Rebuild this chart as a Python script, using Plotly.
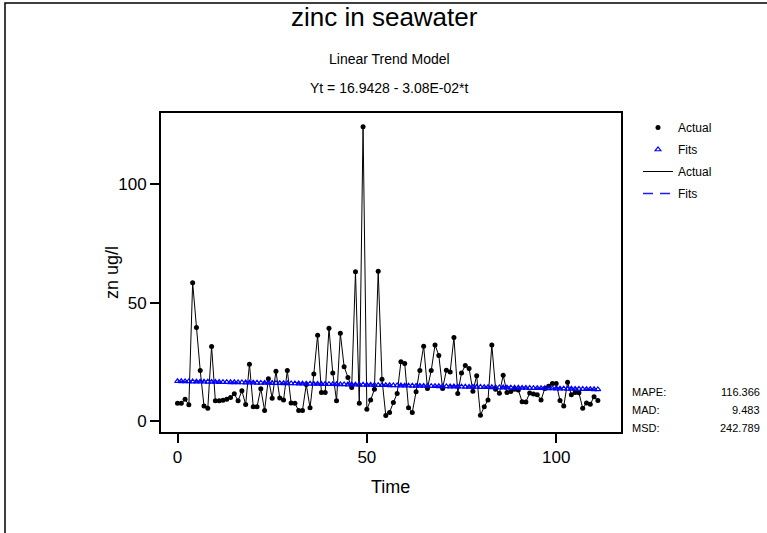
import plotly.graph_objects as go

W, H = 767, 533

time = list(range(0, 112))

actual = [
    7.6, 7.6, 9.3, 7.0, 58.4, 39.6, 21.4, 6.5, 5.5, 31.6,
    8.7, 8.7, 8.9, 9.3, 10.1, 11.6, 8.7, 12.9, 7.1, 24.1,
    6.2, 6.2, 13.8, 4.6, 18.0, 9.8, 21.1, 9.9, 9.0, 21.4,
    7.8, 7.6, 4.6, 4.6, 15.5, 5.7, 20.0, 36.3, 12.2, 12.2,
    39.2, 20.4, 8.7, 37.1, 23.0, 18.5, 14.3, 63.0, 7.6, 124.1,
    5.1, 9.0, 13.5, 63.3, 17.8, 2.5, 3.8, 8.0, 11.7, 25.1,
    24.4, 5.8, 3.8, 12.5, 21.4, 31.7, 13.9, 21.4, 32.2, 27.8,
    13.9, 21.5, 20.8, 35.3, 11.8, 20.4, 23.5, 22.3, 12.7, 19.2,
    2.6, 6.2, 9.0, 32.2, 13.5, 11.9, 19.4, 12.2, 12.6, 13.5,
    13.2, 8.3, 8.2, 12.0, 11.5, 11.2, 9.0, 13.9, 14.8, 16.0,
    16.0, 8.8, 6.5, 16.5, 11.2, 12.2, 12.1, 5.5, 7.7, 7.2,
    10.4, 8.8,
]

fits = [
    16.91, 16.88, 16.85, 16.82, 16.79, 16.76, 16.73, 16.70, 16.67, 16.63,
    16.60, 16.57, 16.54, 16.51, 16.48, 16.45, 16.42, 16.39, 16.36, 16.33,
    16.30, 16.27, 16.23, 16.20, 16.17, 16.14, 16.11, 16.08, 16.05, 16.02,
    15.99, 15.96, 15.93, 15.90, 15.86, 15.83, 15.80, 15.77, 15.74, 15.71,
    15.68, 15.65, 15.62, 15.59, 15.56, 15.53, 15.50, 15.46, 15.43, 15.40,
    15.37, 15.34, 15.31, 15.28, 15.25, 15.22, 15.19, 15.16, 15.13, 15.10,
    15.06, 15.03, 15.00, 14.97, 14.94, 14.91, 14.88, 14.85, 14.82, 14.79,
    14.76, 14.73, 14.69, 14.66, 14.63, 14.60, 14.57, 14.54, 14.51, 14.48,
    14.45, 14.42, 14.39, 14.36, 14.33, 14.29, 14.26, 14.23, 14.20, 14.17,
    14.14, 14.11, 14.08, 14.05, 14.02, 13.99, 13.96, 13.92, 13.89, 13.86,
    13.83, 13.80, 13.77, 13.74, 13.71, 13.68, 13.65, 13.62, 13.59, 13.56,
    13.52, 13.49,
]

x_ticks = [0, 50, 100]
y_ticks = [0, 50, 100]

stat_names = ["MAPE:", "MAD:", "MSD:"]
stat_values = ["116.366", "9.483", "242.789"]

title_main = "zinc in seawater"
title_sub1 = "Linear Trend Model"
title_sub2 = "Yt = 16.9428 - 3.08E-02*t"

FONT = "Liberation Sans, Arial, sans-serif"


def px(x):
    return x / W


def py(y):
    return 1 - y / H


# plot box in pixels
L, R, T, B = 161, 621, 113, 432

fig = go.Figure()
fig.add_trace(go.Scatter(x=time, y=actual, mode="lines", name="Actual",
                         line=dict(color="black", width=1),
                         legendgroup="c", legendrank=3))
fig.add_trace(go.Scatter(x=time, y=actual, mode="markers", name="Actual",
                         marker=dict(color="black", size=5, symbol="circle"),
                         legendgroup="a", legendrank=1))
fig.add_trace(go.Scatter(x=time, y=fits, mode="lines", name="Fits",
                         line=dict(color="#1a1aff", width=1.6, dash="10px,7px"),
                         legendgroup="d", legendrank=4))
fig.add_trace(go.Scatter(x=time, y=fits, mode="markers", name="Fits",
                         marker=dict(color="#0000ff", size=5, symbol="triangle-up-open",
                                     line=dict(width=1.2, color="#0000ff")),
                         legendgroup="b", legendrank=2))

annotations = [
    dict(text=title_main, x=px(384), y=py(17), font=dict(size=26)),
    dict(text=title_sub1, x=px(389), y=py(59), font=dict(size=14)),
    dict(text=title_sub2, x=px(389), y=py(88), font=dict(size=14)),
    dict(text="zn ug/l", x=px(112), y=py(272), font=dict(size=18), textangle=-90),
    dict(text="Time", x=px(391), y=py(487), font=dict(size=18)),
]
for k, (n, v) in enumerate(zip(stat_names, stat_values)):
    yy = 392 + 18 * k
    annotations.append(dict(text=n, x=px(630), y=py(yy), xanchor="left", font=dict(size=11)))
    annotations.append(dict(text=v, x=px(762), y=py(yy), xanchor="right", font=dict(size=11)))
for a in annotations:
    a.setdefault("xref", "paper")
    a.setdefault("yref", "paper")
    a.setdefault("showarrow", False)
    a.setdefault("xanchor", "center")
    a.setdefault("yanchor", "middle")
    a["font"].update(family=FONT, color="black")

fig.update_layout(
    width=W, height=H,
    margin=dict(l=0, r=0, t=0, b=0),
    paper_bgcolor="white", plot_bgcolor="white",
    font=dict(family=FONT, color="black"),
    showlegend=True,
    legend=dict(x=px(638), y=py(113), xanchor="left", yanchor="top",
                font=dict(size=12, family=FONT), tracegroupgap=3,
                bgcolor="rgba(0,0,0,0)", itemwidth=30),
    annotations=annotations,
    xaxis=dict(domain=[px(L), px(R)], range=[(L - 177.5) / 3.787, (R - 177.5) / 3.787],
               tickvals=x_ticks, ticks="outside", ticklen=9, tickwidth=1.5, tickcolor="black",
               showline=True, linecolor="black", linewidth=2, mirror=True,
               showgrid=False, zeroline=False, tickfont=dict(size=17), anchor="y"),
    yaxis=dict(domain=[py(B), py(T)], range=[(421.4 - B) / 2.374, (421.4 - T) / 2.374],
               tickvals=y_ticks, ticks="outside", ticklen=9, tickwidth=1.5, tickcolor="black",
               showline=True, linecolor="black", linewidth=2, mirror=True,
               showgrid=False, zeroline=False, tickfont=dict(size=17), anchor="x"),
    shapes=[dict(type="rect", xref="paper", yref="paper",
                 x0=px(5), x1=px(900), y0=py(700), y1=py(3),
                 line=dict(color="black", width=1.5), fillcolor="rgba(0,0,0,0)")],
)

fig.write_html("out.html")
